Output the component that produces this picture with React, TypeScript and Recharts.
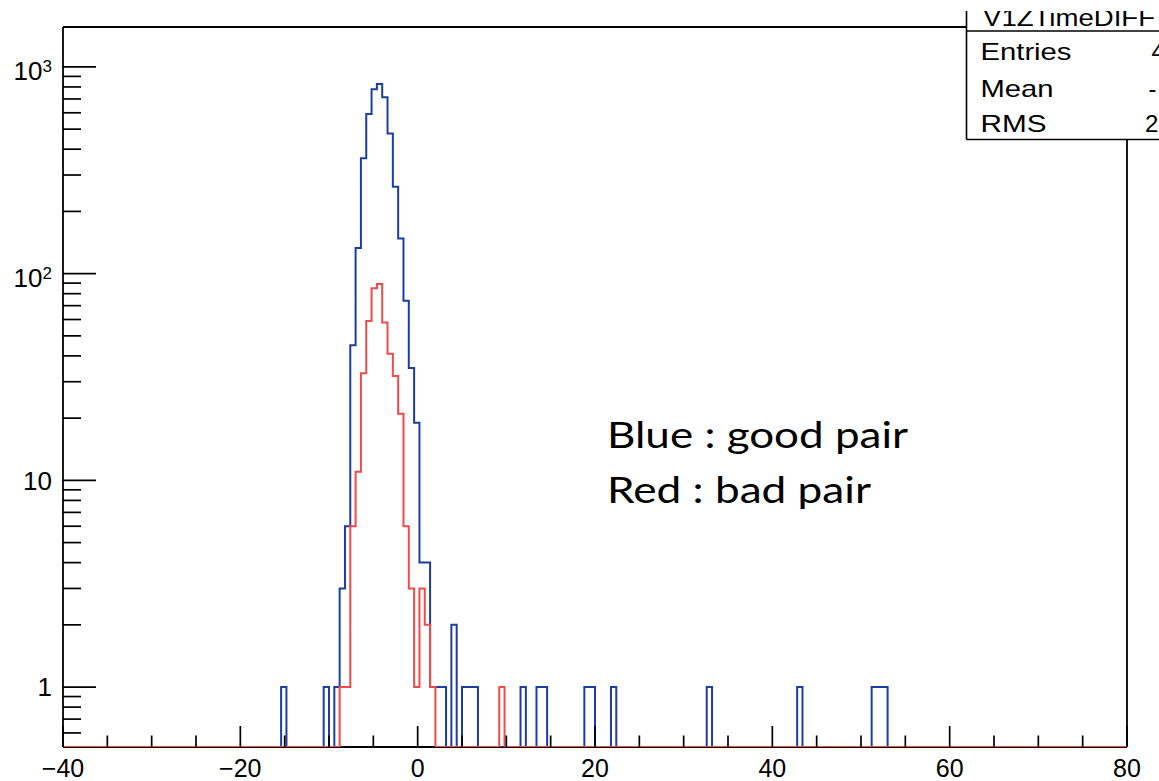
import React from 'react';
import { ComposedChart, Line, XAxis, YAxis } from 'recharts';

// ---- histogram binning (ROOT TH1: 200 bins from -40 to 80) ----
const X_MIN = -40;
const X_MAX = 80;
const BIN_WIDTH = 0.6;
const N_BINS = 200;
const Y_FLOOR = 0.513; // bottom of the log axis (empty bins drawn here)
const Y_MAX = 1560;

// Blue : good pair  (bin index -> entries)
const blueBins = [41, 49, 51, 52, 53, 54, 55, 56, 57, 58, 59, 60, 61, 62, 63, 64, 65, 66, 67, 68, 69, 70, 71, 73, 75, 76, 77, 86, 89, 90, 98, 99, 103, 121, 138, 152, 153, 154];
const blueCounts = [1, 1, 1, 3, 6, 45, 133, 362, 592, 779, 827, 713, 477, 263, 148, 74, 35, 19, 4, 4, 1, 1, 1, 2, 1, 1, 1, 1, 1, 1, 1, 1, 1, 1, 1, 1, 1, 1];

// Red : bad pair
const redBins = [52, 53, 54, 55, 56, 57, 58, 59, 60, 61, 62, 63, 64, 65, 66, 67, 68, 69, 82];
const redCounts = [1, 1, 6, 11, 33, 59, 85, 89, 58, 41, 32, 21, 6, 3, 1, 3, 2, 1, 1];

// ticks
const xMajorTicks = [-40, -20, 0, 20, 40, 60, 80];
const xMinorTicks = [-35, -30, -25, -15, -10, -5, 5, 10, 15, 25, 30, 35, 45, 50, 55, 65, 70, 75];
const yMajorTicks = [1, 10, 100, 1000];
const yMinorTicks = [0.6, 0.7, 0.8, 0.9, 2, 3, 4, 5, 6, 7, 8, 9, 20, 30, 40, 50, 60, 70, 80, 90, 200, 300, 400, 500, 600, 700, 800, 900];
const yTickBase = ['1', '10', '10', '10'];
const yTickExp = ['', '', '2', '3'];

// stats box text
const statsTitle = 'V1ZTimeDIFF';
const statsNames = ['Entries', 'Mean', 'RMS'];
const statsValues = ['4', '-', '2'];
const noteLines = ['Blue : good pair', 'Red : bad pair'];

// ---- layout ----
const W = 1159;
const H = 781;
const PL = 63;
const PR = 1127;
const PT = 27;
const PB = 747;
const AXIS_FONT = '"Liberation Sans", Arial, Helvetica, sans-serif';
const BLUE = '#1c3da3';
const RED = '#f24a4a';

const blueMap = new Map<number, number>(blueBins.map((b, i) => [b, blueCounts[i]]));
const redMap = new Map<number, number>(redBins.map((b, i) => [b, redCounts[i]]));

const data: { x: number; blue: number; red: number }[] = [];
for (let i = 0; i <= N_BINS; i++) {
  const k = Math.min(i, N_BINS - 1);
  data.push({
    x: Number((X_MIN + i * BIN_WIDTH).toFixed(3)),
    blue: blueMap.get(k) ?? Y_FLOOR,
    red: redMap.get(k) ?? Y_FLOOR,
  });
}

const fmtX = (v: number) => (v < 0 ? '\u2212' + Math.abs(v) : String(v));

const XTick = (props: any) => {
  const { x, payload } = props;
  const v = Number(payload.value);
  const major = xMajorTicks.includes(v);
  return (
    <g>
      <line x1={x} x2={x} y1={PB} y2={PB - (major ? 21 : 11.5)} stroke="#000" strokeWidth={1.7} />
      {major && (
        <text x={x} y={777} textAnchor="middle" fontSize={25} fontFamily={AXIS_FONT} fill="#000">
          {fmtX(v)}
        </text>
      )}
    </g>
  );
};

const YTick = (props: any) => {
  const { y, payload } = props;
  const v = Number(payload.value);
  const idx = yMajorTicks.indexOf(v);
  const major = idx >= 0;
  const exp = major ? yTickExp[idx] : '';
  return (
    <g>
      <line x1={PL} x2={PL + (major ? 33 : 18)} y1={y} y2={y} stroke="#000" strokeWidth={1.7} />
      {major && (
        <text
          x={52}
          y={y + (exp ? 13.5 : 9.3)}
          textAnchor="end"
          fontSize={26}
          fontFamily={AXIS_FONT}
          fill="#000"
        >
          {yTickBase[idx]}
          {exp && (
            <tspan fontSize={17} dy={-8.5}>
              {exp}
            </tspan>
          )}
        </text>
      )}
    </g>
  );
};

export default function App() {
  return (
    <div style={{ position: 'absolute', left: 0, top: 0, width: W, height: H, background: '#fff' }}>
      {/* frame (under the histograms) */}
      <svg width={W} height={H} style={{ position: 'absolute', left: 0, top: 0 }}>
        <rect x={0} y={0} width={W} height={H} fill="#fff" />
        <line x1={PL} y1={PT} x2={PL} y2={PB} stroke="#000" strokeWidth={1.8} />
        <line x1={PL} y1={PB} x2={PR} y2={PB} stroke="#000" strokeWidth={1.8} />
        <line x1={PL} y1={PT} x2={PR} y2={PT} stroke="#000" strokeWidth={1.8} />
        <line x1={PR} y1={PT} x2={PR} y2={PB} stroke="#000" strokeWidth={1.8} />
      </svg>
      <div style={{ position: 'absolute', left: 0, top: 0 }}>
        <ComposedChart
          width={W}
          height={H}
          data={data}
          margin={{ top: PT, right: W - PR, bottom: H - PB - 20, left: PL - 20 }}
        >
          <XAxis
            dataKey="x"
            type="number"
            domain={[X_MIN, X_MAX]}
            allowDataOverflow
            ticks={[...xMajorTicks, ...xMinorTicks]}
            interval={0}
            tick={XTick}
            tickLine={false}
            axisLine={false}
            height={20}
          />
          <YAxis
            type="number"
            scale="log"
            domain={[Y_FLOOR, Y_MAX]}
            allowDataOverflow
            ticks={[...yMajorTicks, ...yMinorTicks]}
            interval={0}
            tick={YTick}
            tickLine={false}
            axisLine={false}
            width={20}
          />
          <Line
            type="stepAfter"
            dataKey="blue"
            stroke={BLUE}
            strokeWidth={2}
            dot={false}
            activeDot={false}
            isAnimationActive={false}
            strokeLinejoin="miter"
          />
          <Line
            type="stepAfter"
            dataKey="red"
            stroke={RED}
            strokeWidth={2}
            dot={false}
            activeDot={false}
            isAnimationActive={false}
            strokeLinejoin="miter"
          />
        </ComposedChart>
      </div>
      {/* stats box and annotation */}
      <svg width={W} height={H} style={{ position: 'absolute', left: 0, top: 0, pointerEvents: 'none' }}>
        <rect x={966.5} y={0} width={W - 966.5} height={139.5} fill="#fff" />
        <text x={983} y={26} fontSize={24} fontFamily={AXIS_FONT} textLength={172} lengthAdjust="spacingAndGlyphs">
          {statsTitle}
        </text>
        <rect x={960} y={0} width={W - 960} height={11} fill="#fff" />
        <line x1={966.5} y1={11} x2={966.5} y2={139.5} stroke="#000" strokeWidth={1.6} />
        <line x1={966.5} y1={139.5} x2={W} y2={139.5} stroke="#000" strokeWidth={1.6} />
        <line x1={966.5} y1={31} x2={W} y2={31} stroke="#000" strokeWidth={1.6} />
        {statsNames.map((n, i) => (
          <text
            key={n}
            x={980.5}
            y={[60, 96.5, 131.5][i]}
            fontSize={24}
            fontFamily={AXIS_FONT}
            textLength={[91, 73, 66][i]}
            lengthAdjust="spacingAndGlyphs"
          >
            {n}
          </text>
        ))}
        {statsValues.map((v, i) => (
          <text key={i} x={[1151.5, 1148.5, 1145][i]} y={[60, 96.5, 131.5][i]} fontSize={24} fontFamily={AXIS_FONT}>
            {v}
          </text>
        ))}
        {noteLines.map((t, i) => (
          <text
            key={t}
            x={607}
            y={[448, 503][i]}
            fontSize={37}
            fontFamily="Lato, 'Open Sans', sans-serif"
            textLength={[301, 264][i]}
            lengthAdjust="spacingAndGlyphs"
            fill="#000"
          >
            {t}
          </text>
        ))}
      </svg>
    </div>
  );
}
